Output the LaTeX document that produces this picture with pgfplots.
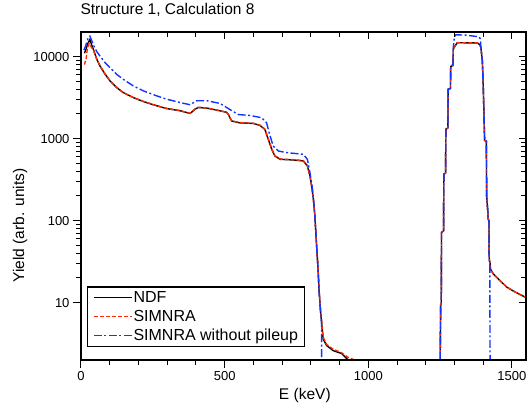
\documentclass[border=0pt]{standalone}
\usepackage{fontspec}
\setmainfont{Liberation Sans}
\usepackage{pgfplots}
\pgfplotsset{compat=1.18}
\definecolor{simred}{HTML}{FF2A00}
\definecolor{simblue}{HTML}{1433FF}

\begin{document}
\begin{tikzpicture}
\begin{axis}[
  name=ax,
  scale only axis, width=445pt, height=328pt,
  xmin=0, xmax=1549, ymin=2, ymax=20000, ymode=log,
  xtick={0,500,1000,1500}, minor x tick num=4,
  ytick={10,100,1000,10000},
  log ticks with fixed point,
  /pgf/number format/1000 sep={},
  /pgf/number format/assume math mode=true,
  tick align=outside, xtick pos=left, ytick pos=left,
  major tick length=8pt, minor tick length=5pt,
  axis line style={line width=1.2pt},
  tick style={black, line width=1pt},
  tick label style={font=\fontsize{13}{15}\selectfont},
  xlabel={E (keV)}, ylabel={Yield (arb. units)},
  label style={font=\fontsize{15.5}{18}\selectfont},
  xlabel style={at={(axis description cs:0.503,-0.107)}, anchor=center},
  ylabel style={at={(axis description cs:-0.137,0.41)}, anchor=center},
  title={Structure 1, Calculation 8},
  title style={at={(axis description cs:-0.009,1)}, anchor=base west, yshift=11pt,
    font=\fontsize{15.5}{18}\selectfont},
  legend style={at={(axis description cs:0.0135,0.04)}, anchor=south west,
    draw=black, line width=1.2pt, font=\fontsize{16}{18}\selectfont,
    inner xsep=5.5pt, inner ysep=3pt, row sep=4.5pt,
    nodes={inner sep=1pt}, cells={anchor=west}},
  legend image code/.code={\draw[#1] (0pt,0pt) -- (38pt,0pt);},
]
% NDF
\addplot[draw=black, line width=1.4pt] coordinates {
 (12,11000) (18,12500) (24,14500) (31,16200) (37,14000) (43,12300) (55,9300)
 (66,7700) (84,6100) (101,5070) (124,4200) (147,3650) (182,3170) (217,2840)
 (252,2590) (298,2330) (345,2190) (380,2030) (397,2290) (408,2400) (438,2360)
 (472,2230) (507,2100) (513,1970) (520,1750) (525,1640) (553,1560) (600,1535)
 (623,1450) (640,1300) (652,980) (664,740) (675,615) (693,560) (739,550)
 (774,535) (788,465) (797,351) (803,260) (809,182) (814,115) (820,50) (825,26)
 (829,13.5) (834,7.7) (843,3.6) (855,3.0) (878,2.6) (907,2.4) (930,2.0) (940,1.5)
 (1250,1.5) (1252,9.3) (1254,9.5) (1255,72) (1262,75) (1263,370) (1269,380)
 (1270,1300) (1277,1350) (1278,4000) (1286,4100) (1287,7600) (1295,7800)
 (1296,12500) (1305,14000) (1310,14800) (1380,14700) (1388,14000) (1392,12900)
 (1397,8900) (1400,4600) (1405,950) (1411,930) (1412,200) (1416,130) (1417,105)
 (1420,100) (1421,34) (1424,30) (1425,26) (1430,24) (1435,22.5) (1458,18.6)
 (1482,15.5) (1511,13.5) (1550,11.5)
};
\addlegendentry{NDF}
% SIMNRA
\addplot[draw=simred, line width=1.4pt, dash pattern=on 4pt off 2pt] coordinates {
 (12,8000) (18,9500) (22,12500) (28,14500) (35,13300) (43,12000) (55,9300)
 (66,7800) (84,6150) (101,5100) (124,4250) (147,3650) (182,3180) (217,2850)
 (252,2600) (298,2340) (345,2200) (380,2040) (397,2300) (408,2420) (438,2370)
 (472,2240) (507,2100) (513,1980) (520,1760) (525,1650) (553,1570) (600,1540)
 (623,1460) (640,1310) (652,1000) (664,750) (675,620) (693,565) (739,555)
 (774,540) (788,470) (797,355) (803,262) (809,185) (814,118) (820,52) (825,27)
 (829,14) (834,8) (843,3.8) (855,3.1) (878,2.7) (907,2.45) (930,2.15) (945,2.05)
 (960,1.95) (965,1.5)
 (1250,1.5) (1252,9.3) (1254,9.5) (1255,72) (1262,75) (1263,370) (1269,380)
 (1270,1300) (1277,1350) (1278,4000) (1286,4100) (1287,7600) (1295,7800)
 (1296,12500) (1305,14000) (1310,14800) (1380,14700) (1388,14000) (1392,12900)
 (1397,8900) (1400,4600) (1405,950) (1411,930) (1412,200) (1416,130) (1417,105)
 (1420,100) (1421,34) (1424,30) (1425,26) (1430,24) (1435,22.5) (1458,18.6)
 (1482,15.5) (1511,13.5) (1550,11.5)
};
\addlegendentry{SIMNRA}
% SIMNRA without pileup
\addplot[draw=simblue, line width=1.4pt, dash pattern=on 8pt off 2.5pt on 2pt off 2.5pt] coordinates {
 (10,12000) (16,13500) (24,16500) (31,17800) (38,15500) (45,13500) (55,11500)
 (66,10200) (84,8450) (101,7350) (124,6100) (147,5300) (182,4400) (217,3830)
 (263,3330) (298,3030) (345,2760) (380,2590) (395,2800) (403,2900) (438,2900)
 (484,2690) (518,2270) (548,1970) (588,1920) (629,1800) (646,1560) (655,1180)
 (669,813) (687,707) (716,676) (774,645) (788,560) (797,386) (806,242)
 (809,182) (814,115) (820,50) (825,26) (829,13.5) (834,7.7) (837,6) (838,1.5)
 (1250,1.5) (1252,9.3) (1254,9.5) (1255,72) (1262,75) (1263,370) (1269,380)
 (1270,1300) (1277,1350) (1278,4000) (1286,4100) (1287,7800) (1295,8000)
 (1296,13000) (1300,17500) (1305,18500) (1340,18300) (1385,17500) (1390,16500)
 (1392,13000) (1397,9000) (1400,4700) (1405,960) (1411,940) (1412,200)
 (1416,130) (1417,105) (1420,100) (1421,34) (1423,30) (1424,1.5)
};
\addlegendentry{SIMNRA without pileup}
\end{axis}
\begin{axis}[
  scale only axis, width=445pt, height=328pt,
  xmin=0, xmax=1549, ymin=2, ymax=20000, ymode=log,
  xtick={0,500,1000,1500}, minor x tick num=4,
  ytick={10,100,1000,10000},
  tick align=inside, xtick pos=right, ytick pos=right,
  xticklabels={}, yticklabels={},
  major tick length=7pt, minor tick length=5pt,
  axis line style={line width=1.2pt},
  tick style={black, line width=1pt},
]
\end{axis}
\pgfresetboundingbox
\path[use as bounding box] ([shift={(-81pt,-48pt)}]ax.south west) rectangle ([shift={(1pt,32pt)}]ax.north east);
\end{tikzpicture}
\end{document}
